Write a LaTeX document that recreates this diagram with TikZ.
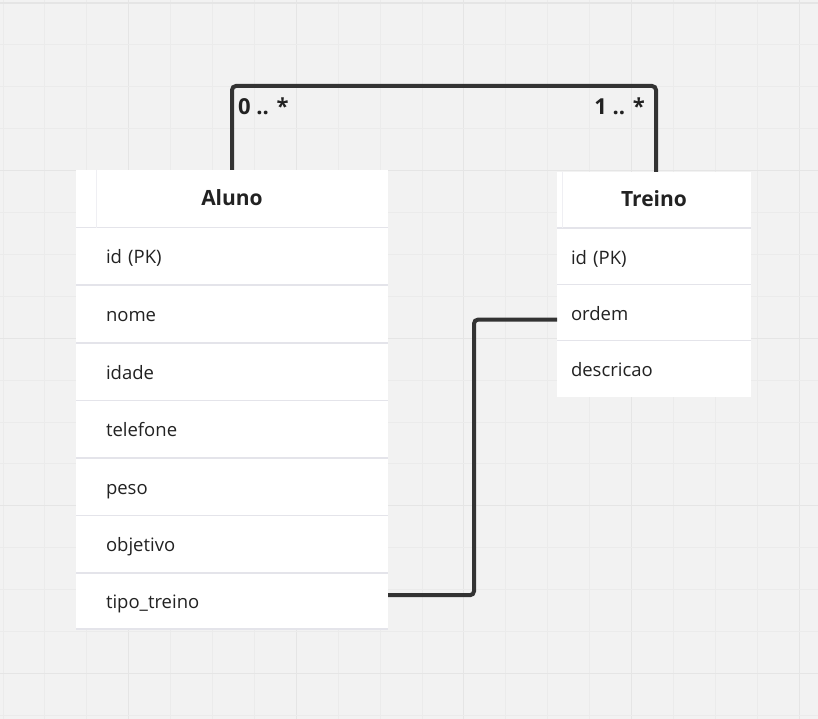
\documentclass[tikz,border=0pt]{standalone}
\usepackage{fontspec}
\setmainfont{Open Sans}
\usetikzlibrary{positioning}
\definecolor{canvas}{HTML}{F2F2F2}
\definecolor{gridminor}{HTML}{EBEBEB}
\definecolor{gridmajor}{HTML}{E5E5E5}
\definecolor{rowline}{HTML}{E4E4EA}
\definecolor{textdark}{HTML}{222222}
\definecolor{linkdark}{HTML}{333333}
\tikzstyle{header} = [rectangle, fill=white, text=textdark, font=\bfseries\fontsize{21}{25}\selectfont, text height=17pt, text depth=3.6pt, inner sep=0pt, outer sep=0pt]
\tikzstyle{alunofield} = [rectangle, fill=white, text=textdark, font=\fontsize{18.5}{22}\selectfont, text width=252pt, align=left, text height=17pt, text depth=2pt, inner xsep=30pt, inner ysep=0pt, outer sep=0pt, minimum height=57.6pt]
\tikzstyle{treinofield} = [rectangle, fill=white, text=textdark, font=\fontsize{18.5}{22}\selectfont, text width=166pt, align=left, text height=17.5pt, text depth=1.5pt, inner xsep=14pt, inner ysep=0pt, outer sep=0pt, minimum height=56.25pt]
\tikzstyle{sep} = [draw=rowline, line width=1.5pt]
\tikzstyle{relation} = [draw=linkdark, line width=4pt, rounded corners=4pt]
\tikzstyle{mult} = [text=textdark, font=\bfseries\fontsize{22}{26}\selectfont, inner sep=0pt]

\begin{document}
\begin{tikzpicture}[x=1pt, y=-1pt]
    % Canvas and grid
    \fill[canvas] (0,0) rectangle (818,719);
    \useasboundingbox (0,0) rectangle (818,719);
    \foreach \k in {0,...,19} {
        \pgfmathsetmacro{\gx}{3+41.9*\k}
        \pgfmathtruncatemacro{\m}{mod(\k,4)}
        \ifnum\m=3 \draw[gridmajor, line width=1.1pt] (\gx,0) -- (\gx,719);
        \else \draw[gridminor, line width=0.9pt] (\gx,0) -- (\gx,719); \fi
    }
    \foreach \k in {0,...,17} {
        \pgfmathsetmacro{\gy}{3+41.9*\k}
        \pgfmathtruncatemacro{\m}{mod(\k,4)}
        \ifnum\m=0 \draw[gridmajor, line width=1.1pt] (0,\gy) -- (818,\gy);
        \else \draw[gridminor, line width=0.9pt] (0,\gy) -- (818,\gy); \fi
    }
    % Place nodes
    \node [header, minimum width=312pt, minimum height=57.6pt] (aluno) at (232,198.8) {Aluno};
    \node [alunofield, below=0pt of aluno] (aluno-id) {id (PK)};
    \node [alunofield, below=0pt of aluno-id] (aluno-nome) {nome};
    \node [alunofield, below=0pt of aluno-nome] (aluno-idade) {idade};
    \node [alunofield, below=0pt of aluno-idade] (aluno-telefone) {telefone};
    \node [alunofield, below=0pt of aluno-telefone] (aluno-peso) {peso};
    \node [alunofield, below=0pt of aluno-peso] (aluno-objetivo) {objetivo};
    \node [alunofield, below=0pt of aluno-objetivo, minimum height=56pt] (aluno-tipo) {tipo\_treino};
    \node [header, minimum width=194pt, minimum height=56.25pt] (treino) at (654,200.1) {Treino};
    \node [treinofield, below=0pt of treino] (treino-id) {id (PK)};
    \node [treinofield, below=0pt of treino-id] (treino-ordem) {ordem};
    \node [treinofield, below=0pt of treino-ordem] (treino-descricao) {descricao};
    % Row separators
    \foreach \n in {aluno,aluno-id,aluno-nome,aluno-idade,aluno-telefone,aluno-peso,aluno-objetivo,aluno-tipo,treino,treino-id,treino-ordem}
        \draw[sep] (\n.south west) -- (\n.south east);
    \draw[rowline!60, line width=1pt] ([xshift=20pt]aluno.north west) -- ([xshift=20pt]aluno.south west);
    \draw[rowline!60, line width=1pt] ([xshift=5pt]treino.north west) -- ([xshift=5pt]treino.south west);
    % Draw edges
    \coordinate (top) at (444,86);
    \coordinate (mid) at (474,450);
    \path [relation] (aluno.north) |- (top) -| ([xshift=2pt]treino.north);
    \path [relation] ([yshift=6pt]aluno-tipo.east) -| (mid) |- ([yshift=-7pt]treino-ordem.west);
    % Multiplicities
    \node [mult, anchor=base west] (mult-aluno) at (238,115) {0 .. *};
    \node [mult, anchor=base east] (mult-treino) at (645,115) {1 .. *};
\end{tikzpicture}
\end{document}
